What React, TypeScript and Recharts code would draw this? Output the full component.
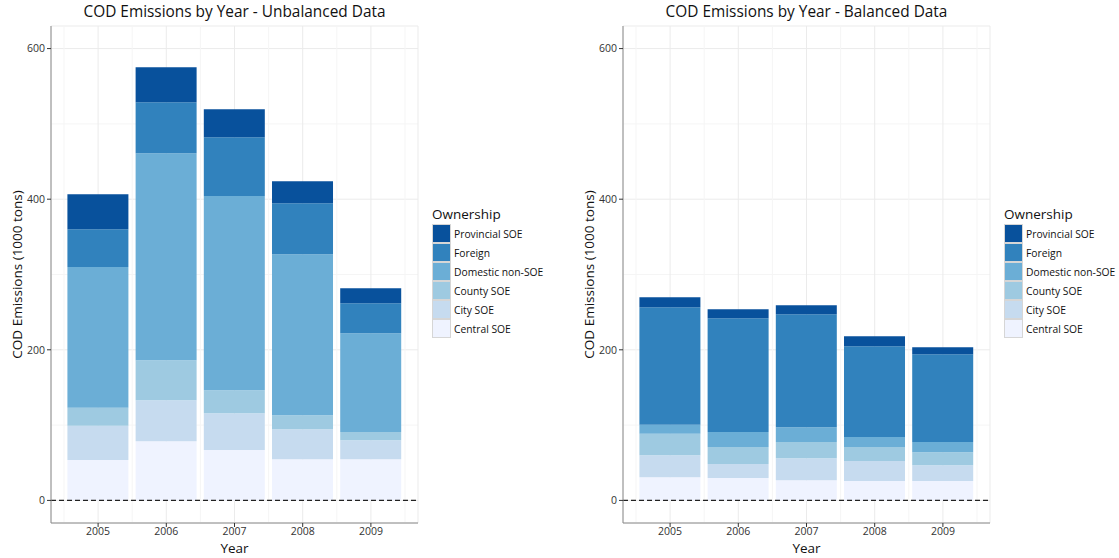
import {
  BarChart,
  Bar,
  XAxis,
  YAxis,
  CartesianGrid,
  ReferenceLine,
} from 'recharts';

const years = ['2005', '2006', '2007', '2008', '2009'];
// stacking order, bottom to top
const owners = ['Central SOE', 'City SOE', 'County SOE', 'Domestic non-SOE', 'Foreign', 'Provincial SOE'];
const ownerColors = ['#eff3ff', '#c6dbef', '#9ecae1', '#6baed6', '#3182bd', '#08519c'];
const yTicks = [0, 200, 400, 600];
const yMinorTicks = [100, 300, 500];

// Unbalanced data
const ubCentral = [53.5, 78.7, 66.8, 54.8, 54.8];
const ubCity = [45.5, 54.4, 49.1, 39.8, 25.2];
const ubCounty = [24, 53.1, 30.5, 18.6, 10.7];
const ubDomestic = [187, 274.8, 258, 213.8, 131.4];
const ubForeign = [50, 67.7, 77.9, 67.7, 39.8];
const ubProvincial = [46.5, 46.5, 37.1, 29.2, 19.9];

// Balanced data
const bCentral = [30.9, 29.6, 26.9, 25.7, 25.7];
const bCity = [29.2, 18.6, 29.2, 26.5, 21.1];
const bCounty = [28.3, 22.6, 21.3, 18.6, 17.3];
const bDomestic = [12, 19.9, 19.9, 13.3, 13.3];
const bForeign = [156.2, 151.3, 150, 120.7, 116.8];
const bProvincial = [13.3, 12, 12, 13.3, 9.3];

function buildRows(series: number[][]) {
  return years.map((year, i) => {
    const row: Record<string, string | number> = { year };
    owners.forEach((o, k) => {
      row[o] = series[k][i];
    });
    return row;
  });
}

const unbalancedRows = buildRows([ubCentral, ubCity, ubCounty, ubDomestic, ubForeign, ubProvincial]);
const balancedRows = buildRows([bCentral, bCity, bCounty, bDomestic, bForeign, bProvincial]);

const FONT = '"Open Sans", "Noto Sans", sans-serif';
const PANEL_W = 572;
const PLOT_LEFT = 51;
const PLOT_RIGHT = 418;

function OwnershipLegend() {
  const items = owners.map((o, i) => ({ name: o, color: ownerColors[i] })).reverse();
  return (
    <div style={{ position: 'absolute', left: 432, top: 205, fontFamily: FONT, color: '#111' }}>
      <div style={{ fontSize: 13.5, lineHeight: '19px' }}>Ownership</div>
      {items.map((it) => (
        <div key={it.name} style={{ display: 'flex', alignItems: 'center', height: 19 }}>
          <div
            style={{
              width: 19,
              height: 19,
              boxSizing: 'border-box',
              background: it.color,
              border: '1px solid #d6d6d6',
            }}
          />
          <span style={{ fontSize: 10.3, marginLeft: 3, whiteSpace: 'nowrap' }}>{it.name}</span>
        </div>
      ))}
    </div>
  );
}

function Panel({ title, data, left }: { title: string; data: Record<string, string | number>[]; left: number }) {
  return (
    <div style={{ position: 'absolute', left, top: 0, width: PANEL_W, height: 558 }}>
      <div
        style={{
          position: 'absolute',
          left: PLOT_LEFT,
          width: PLOT_RIGHT - PLOT_LEFT,
          top: 1,
          textAlign: 'center',
          fontFamily: FONT,
          fontSize: 15.4,
          lineHeight: '22px',
          color: '#111',
          whiteSpace: 'nowrap',
        }}
      >
        {title}
      </div>
      <BarChart
        width={PANEL_W}
        height={558}
        data={data}
        margin={{ top: 26, right: PANEL_W - PLOT_RIGHT, bottom: 0, left: 0 }}
        barCategoryGap="5%"
        style={{ fontFamily: FONT }}
      >
        <CartesianGrid horizontalValues={yMinorTicks} vertical={false} stroke="#f5f5f5" strokeWidth={1} />
        <CartesianGrid stroke="#ebebeb" strokeWidth={1} />
        <XAxis
          dataKey="year"
          type="category"
          padding={{ left: 13, right: 13 }}
          height={35}
          tickSize={4}
          tickMargin={1}
          stroke="#333"
          tick={{ fontSize: 10.5, fill: '#333', stroke: 'none' }}
          axisLine={{ stroke: '#8a8a8a' }}
          label={{ value: 'Year', position: 'insideBottom', offset: 5, fontSize: 13.5, fill: '#111' }}
        />
        <XAxis xAxisId="top" dataKey="year" orientation="top" height={0} tick={false} tickLine={false} axisLine={{ stroke: '#8a8a8a' }} />
        <YAxis
          type="number"
          domain={[-30, 630]}
          ticks={yTicks}
          allowDataOverflow
          width={PLOT_LEFT}
          tickSize={4}
          tickMargin={2}
          stroke="#333"
          tick={{ fontSize: 10.5, fill: '#333', stroke: 'none' }}
          axisLine={{ stroke: '#8a8a8a' }}
          label={{
            content: ({ viewBox }: any) => {
              const cx = viewBox.x + 17;
              const cy = viewBox.y + viewBox.height / 2;
              return (
                <text
                  x={cx}
                  y={cy}
                  transform={`rotate(-90 ${cx} ${cy})`}
                  textAnchor="middle"
                  dominantBaseline="central"
                  fontSize={13.5}
                  fill="#111"
                >
                  COD Emissions (1000 tons)
                </text>
              );
            },
          }}
        />
        <YAxis yAxisId="right" orientation="right" type="number" domain={[0, 1]} width={0} tick={false} tickLine={false} axisLine={{ stroke: '#8a8a8a' }} />
        {owners.map((o, i) => (
          <Bar key={o} dataKey={o} stackId="a" fill={ownerColors[i]} isAnimationActive={false} />
        ))}
        {years.map((y) => (
          <ReferenceLine key={y} x={y} position="start" stroke="#f5f5f5" />
        ))}
        <ReferenceLine x={years[years.length - 1]} position="end" stroke="#f5f5f5" />
        <ReferenceLine y={0} stroke="#222" strokeDasharray="5 3" strokeWidth={1.1} />
      </BarChart>
      <OwnershipLegend />
    </div>
  );
}

export default function App() {
  return (
    <div style={{ position: 'absolute', left: 0, top: 0, width: 1119, height: 558, overflow: 'hidden', background: '#fff' }}>
      <Panel title="COD Emissions by Year - Unbalanced Data" data={unbalancedRows} left={0} />
      <Panel title="COD Emissions by Year - Balanced Data" data={balancedRows} left={572} />
    </div>
  );
}
